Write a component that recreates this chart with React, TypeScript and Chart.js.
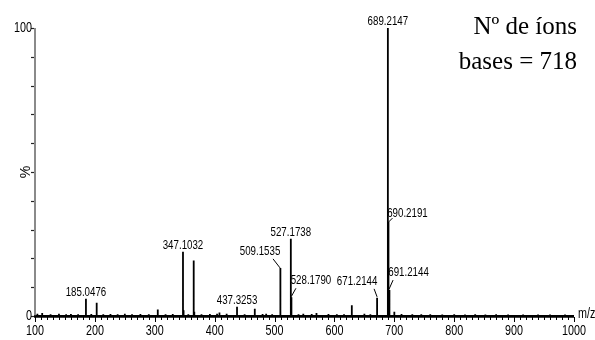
import React, { useEffect, useRef } from "react";
import { Chart, registerables } from "chart.js";

Chart.register(...registerables);

// ---- data ----
const peakMz = [185.05, 203, 305, 347.1, 348.1, 365, 366, 408, 437.33, 467, 509.15, 510.15, 527.17, 528.18, 629, 671.21, 689.21, 690.22, 691.21, 692.2];
const peakIntensity = [6, 4.6, 2.3, 22.3, 2, 19.3, 1.5, 1.2, 3.2, 2.5, 16.7, 1.5, 26.8, 6.5, 3.7, 6.3, 100, 32.6, 9, 3];
const noiseMz = [104, 112, 126, 140, 152, 160, 172, 194, 214, 226, 238, 250, 262, 276, 290, 318, 330, 356, 378, 392, 404, 420, 450, 480, 486, 496, 540, 548, 562, 570, 590, 604, 616, 650, 660, 700, 712, 730, 745, 760, 780, 800, 818, 835, 852, 870, 890, 915, 940, 960, 985];
const noiseIntensity = [0.8, 1.0, 0.6, 0.8, 0.6, 0.7, 0.6, 0.7, 0.6, 0.7, 0.6, 0.8, 0.6, 0.7, 0.6, 0.6, 0.7, 0.6, 0.6, 0.7, 0.8, 0.8, 0.6, 0.7, 0.8, 0.6, 0.6, 0.8, 0.7, 1.0, 0.7, 0.6, 0.6, 0.8, 0.6, 1.5, 0.7, 0.6, 0.6, 0.6, 0.5, 0.6, 0.5, 0.6, 0.5, 0.6, 0.5, 0.5, 0.5, 0.5, 0.5];
const labelledPeaks = ["185.0476", "347.1032", "437.3253", "509.1535", "527.1738", "528.1790", "671.2144", "689.2147", "690.2191", "691.2144"];
const xTickLabels = ["100", "200", "300", "400", "500", "600", "700", "800", "900", "1000"];
const yTickLabels = ["0", "100"];
const xAxisTitle = "m/z";
const yAxisTitle = "%";
const noteLines = ["Nº de íons", "bases = 718"];

// ---- label layout (style, not data) ----
type Layout = { dx: number; dy: number; lead?: [number, number, number, number] };
const labelLayout: Record<string, Layout> = {
  "509.1535": { dx: -20, dy: -16.5, lead: [-7, -9, 0, 0] },
  "528.1790": { dx: 19.5, dy: -17, lead: [4.5, -9, 0, -1] },
  "671.2144": { dx: -20, dy: -17, lead: [-3, -9, 0, -1] },
  "690.2191": { dx: 19, dy: -8.5, lead: [4, -4, 0, 0] },
  "691.2144": { dx: 19.5, dy: -18, lead: [4, -10, 0, -1] },
};

const SANS = '13.5px "Liberation Sans", Arial, sans-serif';
const TICK_SANS = '14px "Liberation Sans", Arial, sans-serif';
const SQUEEZE = 0.72;
const TICK_SQUEEZE = 0.77;

function narrowText(ctx: CanvasRenderingContext2D, text: string, x: number, y: number, sq = SQUEEZE) {
  ctx.save();
  ctx.translate(x, y);
  ctx.scale(sq, 1);
  ctx.fillText(text, 0, 0);
  ctx.restore();
}

function buildSticks() {
  const all = peakMz.map((m, i) => ({ m, h: peakIntensity[i] }))
    .concat(noiseMz.map((m, i) => ({ m, h: noiseIntensity[i] })))
    .sort((a, b) => a.m - b.m);
  const pts: { x: number; y: number }[] = [{ x: 100, y: 0 }];
  all.forEach((p) => {
    pts.push({ x: p.m, y: 0 }, { x: p.m, y: p.h }, { x: p.m, y: 0 });
  });
  pts.push({ x: 1000, y: 0 });
  return pts;
}

function intensityFor(mz: number) {
  let best = 0;
  let bd = Infinity;
  peakMz.forEach((m, i) => {
    const d = Math.abs(m - mz);
    if (d < bd) { bd = d; best = i; }
  });
  return { mz: peakMz[best], h: peakIntensity[best] };
}

const axesPlugin = {
  id: "msAxes",
  afterDatasetsDraw(chart: any) {
    const ctx: CanvasRenderingContext2D = chart.ctx;
    const xs = chart.scales.x;
    const ys = chart.scales.y;
    const x0 = xs.getPixelForValue(100);
    const x1 = xs.getPixelForValue(1000);
    const y0 = ys.getPixelForValue(0);
    const y100 = ys.getPixelForValue(100);
    ctx.save();

    // y axis
    ctx.strokeStyle = "#8a8a8a";
    ctx.lineWidth = 2;
    ctx.beginPath();
    ctx.moveTo(x0, y100);
    ctx.lineTo(x0, y0);
    ctx.stroke();
    ctx.strokeStyle = "#222";
    ctx.lineWidth = 1.2;
    for (let v = 0; v <= 100; v += 10) {
      const y = Math.round(ys.getPixelForValue(v)) + 0.5;
      ctx.beginPath();
      ctx.moveTo(x0 - 4, y);
      ctx.lineTo(x0 - 1, y);
      ctx.stroke();
    }

    // x axis
    ctx.strokeStyle = "#000";
    ctx.lineWidth = 2.5;
    ctx.beginPath();
    ctx.moveTo(x0 - 1, y0 + 0.5);
    ctx.lineTo(x1, y0 + 0.5);
    ctx.stroke();
    ctx.lineWidth = 1;
    for (let v = 100; v <= 1000; v += 10) {
      const x = Math.round(xs.getPixelForValue(v)) + 0.5;
      const major = v % 100 === 0;
      ctx.beginPath();
      ctx.moveTo(x, y0 + 1);
      ctx.lineTo(x, y0 + (major ? 6 : 4));
      ctx.stroke();
    }

    // tick labels
    ctx.fillStyle = "#000";
    ctx.font = TICK_SANS;
    ctx.textAlign = "center";
    ctx.textBaseline = "middle";
    xTickLabels.forEach((t) => {
      narrowText(ctx, t, xs.getPixelForValue(Number(t)), y0 + 15, TICK_SQUEEZE);
    });
    ctx.textAlign = "right";
    yTickLabels.forEach((t) => {
      narrowText(ctx, t, x0 - 3, ys.getPixelForValue(Number(t)) + 0.5, TICK_SQUEEZE);
    });
    ctx.textAlign = "left";
    narrowText(ctx, xAxisTitle, x1 + 4, y0 - 2, TICK_SQUEEZE);

    // y title
    ctx.save();
    ctx.translate(x0 - 9, (y0 + y100) / 2);
    ctx.rotate(-Math.PI / 2);
    ctx.textAlign = "center";
    ctx.font = '14px "Liberation Sans", Arial, sans-serif';
    ctx.fillText(yAxisTitle, 0, 0);
    ctx.restore();

    // peak labels
    ctx.font = SANS;
    ctx.lineWidth = 1;
    ctx.strokeStyle = "#000";
    labelledPeaks.forEach((lbl) => {
      const p = intensityFor(parseFloat(lbl));
      const px = xs.getPixelForValue(p.mz);
      const top = ys.getPixelForValue(p.h);
      const lay = labelLayout[lbl];
      ctx.textAlign = "center";
      if (!lay) {
        ctx.textBaseline = "alphabetic";
        narrowText(ctx, lbl, px, top - 3);
      } else {
        ctx.textBaseline = "middle";
        narrowText(ctx, lbl, px + lay.dx, top + lay.dy);
        if (lay.lead) {
          ctx.beginPath();
          ctx.moveTo(px + lay.lead[0], top + lay.lead[1]);
          ctx.lineTo(px + lay.lead[2], top + lay.lead[3]);
          ctx.stroke();
        }
      }
    });

    // note
    ctx.font = '25px "Liberation Serif", "Times New Roman", serif';
    ctx.textAlign = "right";
    ctx.textBaseline = "alphabetic";
    ctx.fillText(noteLines[0], 577, 34);
    ctx.fillText(noteLines[1], 577, 69);

    ctx.restore();
  },
};

export default function App() {
  const ref = useRef<HTMLCanvasElement | null>(null);
  useEffect(() => {
    document.body.style.margin = "0";
    if (!ref.current) return;
    const chart = new Chart(ref.current, {
      type: "line",
      data: {
        datasets: [
          {
            data: buildSticks(),
            borderColor: "#000",
            borderWidth: 1.8,
            pointRadius: 0,
            tension: 0,
            fill: false,
          },
        ],
      },
      options: {
        animation: false,
        responsive: true,
        maintainAspectRatio: false,
        layout: { padding: { left: 35, right: 21, top: 28, bottom: 24 } },
        plugins: { legend: { display: false }, tooltip: { enabled: false } },
        scales: {
          x: { type: "linear", min: 100, max: 1000, display: false },
          y: { type: "linear", min: 0, max: 100, display: false },
        },
      },
      plugins: [axesPlugin],
    });
    return () => chart.destroy();
  }, []);
  return (
    <div style={{ position: "absolute", left: 0, top: 0, width: 595, height: 340, background: "#fff" }}>
      <canvas ref={ref} />
    </div>
  );
}
